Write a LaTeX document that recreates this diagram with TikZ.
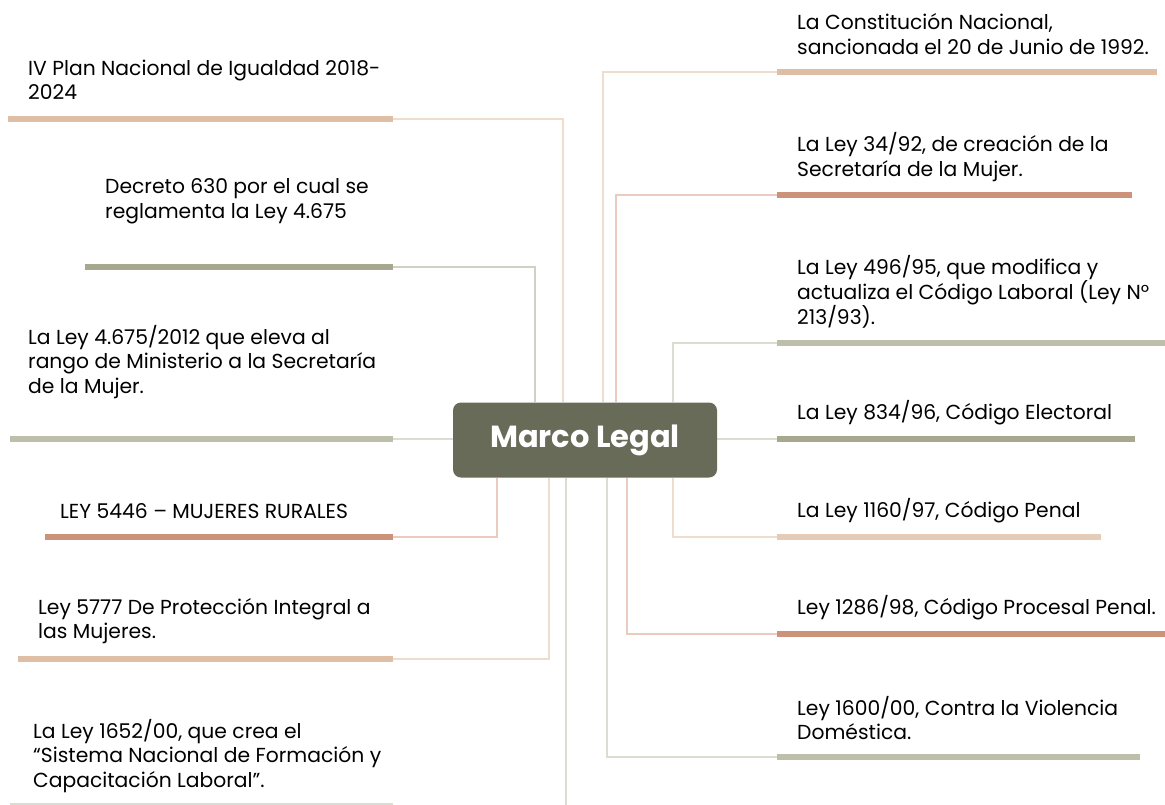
\documentclass[tikz,border=0pt]{standalone}
\usepackage{fontspec}
\setmainfont{Poppins}
\usepackage{tikz}
\usetikzlibrary{backgrounds}

\definecolor{tanbar}{HTML}{DEBFA5}
\definecolor{tanln}{HTML}{EEDCCD}
\definecolor{salbar}{HTML}{CC937B}
\definecolor{salln}{HTML}{EACBBE}
\definecolor{olvbar}{HTML}{A7A88E}
\definecolor{olvln}{HTML}{D0D1C2}
\definecolor{grybar}{HTML}{BDBFAA}
\definecolor{gryln}{HTML}{DCDDD1}
\definecolor{boxfill}{HTML}{676B57}

\begin{document}
\begin{tikzpicture}[x=1pt,y=-1pt,
    bar/.style={line width=5.5pt},
    lnk/.style={line width=1.8pt},
    txt/.style={anchor=west,inner sep=0pt,align=left,font=\fontsize{20.3}{24.5}\selectfont}]
        \useasboundingbox (0,0) rectangle (1165,804);

        % Central box
        \node[fill=boxfill,rounded corners=8pt,minimum width=264,minimum height=75,
              text=white,font=\bfseries\fontsize{30.5}{34}\selectfont] (ml) at (585,440) {Marco Legal};

        % Bar ends next to the central box
        \coordinate (plan) at (393,119);
        \coordinate (dec) at (393,267);
        \coordinate (minis) at (393,439);
        \coordinate (rural) at (393,537);
        \coordinate (prot) at (393,659);
        \coordinate (form) at (393,806);
        \coordinate (const) at (777,72);
        \coordinate (secre) at (777,195);
        \coordinate (labor) at (777,343);
        \coordinate (elect) at (777,439);
        \coordinate (penal) at (777,537);
        \coordinate (proc) at (777,634);
        \coordinate (viol) at (777,757);

        % Connectors, behind the box
        \begin{scope}[on background layer]
        \draw[lnk,tanln] (plan) -| ([xshift=110]ml.north west);
        \draw[lnk,olvln] (dec) -| ([xshift=82]ml.north west);
        \draw[lnk,gryln] (minis) -- (ml.west |- minis);
        \draw[lnk,salln] (rural) -| ([xshift=44]ml.south west);
        \draw[lnk,tanln] (prot) -| ([xshift=96]ml.south west);
        \draw[lnk,gryln] (form) -| ([xshift=113]ml.south west);
        \draw[lnk,tanln] (const) -| ([xshift=150]ml.north west);
        \draw[lnk,salln] (secre) -| ([xshift=163]ml.north west);
        \draw[lnk,gryln] (labor) -| ([xshift=220]ml.north west);
        \draw[lnk,gryln] (elect) -- (ml.east |- elect);
        \draw[lnk,tanln] (penal) -| ([xshift=220]ml.south west);
        \draw[lnk,salln] (proc) -| ([xshift=174]ml.south west);
        \draw[lnk,gryln] (viol) -| ([xshift=154]ml.south west);
        \end{scope}

        % Left bars
        \draw[bar,tanbar] (8,119) -- (plan);
        \draw[bar,olvbar] (85,267) -- (dec);
        \draw[bar,grybar] (10,439) -- (minis);
        \draw[bar,salbar] (45,537) -- (rural);
        \draw[bar,tanbar] (18,659) -- (prot);
        \draw[bar,gryln] (10,806) -- (form);

        % Right bars
        \draw[bar,tanbar] (const) -- (1157,72);
        \draw[bar,salbar] (secre) -- (1132,195);
        \draw[bar,grybar] (labor) -- (1165,343);
        \draw[bar,olvbar] (elect) -- (1135,439);
        \draw[bar,tanbar!80] (penal) -- (1101,537);
        \draw[bar,salbar] (proc) -- (1165,634);
        \draw[bar,grybar] (viol) -- (1140,757);

        % Left texts
        \node[txt] (tplan) at (28,80) {IV Plan Nacional de Igualdad 2018-\\2024};
        \node[txt] (tdec) at (105,201) {Decreto 630 por el cual se\\reglamenta la Ley 4.675};
        \node[txt] (tminis) at (28,362) {La Ley 4.675/2012 que eleva al\\rango de Ministerio a la Secretaría\\de la Mujer.};
        \node[txt] (trural) at (60,511) {LEY 5446 – MUJERES RURALES};
        \node[txt] (tprot) at (38,621) {Ley 5777 De Protección Integral a\\las Mujeres.};
        \node[txt] (tform) at (33,756) {La Ley 1652/00, que crea el\\“Sistema Nacional de Formación y\\Capacitación Laboral”.};

        % Right texts
        \node[txt] (tconst) at (797,34) {La Constitución Nacional,\\sancionada el 20 de Junio de 1992.};
        \node[txt] (tsecre) at (797,157) {La Ley 34/92, de creación de la\\Secretaría de la Mujer.};
        \node[txt] (tlabor) at (797,292) {La Ley 496/95, que modifica y\\actualiza el Código Laboral (Ley N°\\213/93).};
        \node[txt] (telect) at (797,413) {La Ley 834/96, Código Electoral};
        \node[txt] (tpenal) at (797,511) {La Ley 1160/97, Código Penal};
        \node[txt] (tproc) at (797,608) {Ley 1286/98, Código Procesal Penal.};
        \node[txt] (tviol) at (797,718) {Ley 1600/00, Contra la Violencia\\Doméstica.};
    \end{tikzpicture}
\end{document}
